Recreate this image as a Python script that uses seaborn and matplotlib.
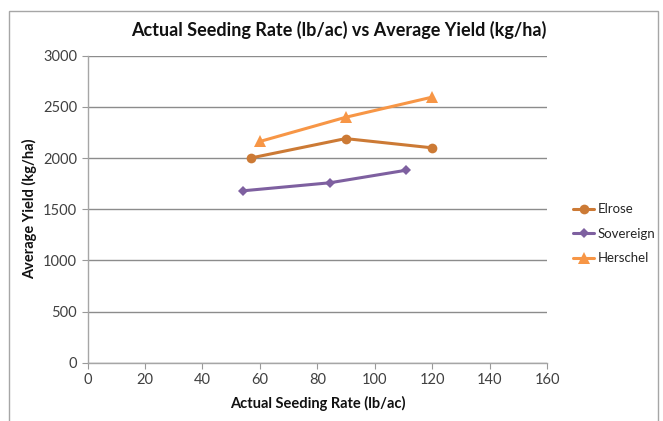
"""
Seeding rate vs yield line chart.
"""

import pandas as pd
import matplotlib
matplotlib.use("Agg")
import matplotlib.pyplot as plt
import seaborn as sns

# data
varieties = ["Elrose", "Sovereign", "Herschel"]
elrose_rate = [56.8, 89.8, 119.8]
elrose_yield = [2000, 2190, 2100]
sovereign_rate = [54.2, 84.3, 110.7]
sovereign_yield = [1680, 1758, 1880]
herschel_rate = [60.0, 89.8, 119.9]
herschel_yield = [2162, 2398, 2595]

x_ticks = [0, 20, 40, 60, 80, 100, 120, 140, 160]
y_ticks = [0, 500, 1000, 1500, 2000, 2500, 3000]

colors = {"Elrose": "#CC7A35", "Sovereign": "#7E60A0", "Herschel": "#F79646"}
markers = {"Elrose": "o", "Sovereign": "D", "Herschel": "^"}
msizes = {"Elrose": 7, "Sovereign": 5, "Herschel": 8}

df = pd.concat([
    pd.DataFrame({"rate": elrose_rate, "yield": elrose_yield, "variety": "Elrose"}),
    pd.DataFrame({"rate": sovereign_rate, "yield": sovereign_yield, "variety": "Sovereign"}),
    pd.DataFrame({"rate": herschel_rate, "yield": herschel_yield, "variety": "Herschel"}),
])

sns.set_theme(style="white")
plt.rcParams["font.family"] = ["Lato", "DejaVu Sans"]

fig = plt.figure(figsize=(6.63, 4.21), dpi=100)
ax = fig.add_axes([0.132, 0.1385, 0.6935, 0.7292])

for name in varieties:
    sub = df[df["variety"] == name]
    sns.lineplot(
        data=sub, x="rate", y="yield", ax=ax, color=colors[name],
        marker=markers[name], markersize=msizes[name], markeredgewidth=0,
        linewidth=2.2, label=name, sort=False,
    )

ax.set_xlim(0, 160)
ax.set_ylim(0, 3000)
ax.set_xticks(x_ticks)
ax.set_yticks(y_ticks)
ax.tick_params(axis="both", labelsize=10.5, colors="#404040", length=4,
               direction="out", left=True, bottom=True, width=0.8)
ax.tick_params(axis="both", color="#999999")
ax.yaxis.grid(True, color="#8C8C8C", linewidth=1)
ax.xaxis.grid(False)
for side in ["top", "right"]:
    ax.spines[side].set_visible(False)
for side in ["left", "bottom"]:
    ax.spines[side].set_color("#A6A6A6")
    ax.spines[side].set_linewidth(1)

ax.set_xlabel("Actual Seeding Rate (lb/ac)", fontsize=10.5, fontweight="bold",
              color="#111111", labelpad=6)
ax.set_ylabel("Average Yield (kg/ha)", fontsize=10.5, fontweight="bold",
              color="#111111", labelpad=4)
fig.text(0.511, 0.928, "Actual Seeding Rate (lb/ac) vs Average Yield (kg/ha)",
         ha="center", va="center", fontsize=13, fontweight="bold", color="#111111")

leg = ax.legend(loc="center left", bbox_to_anchor=(1.03, 0.42), frameon=False,
                fontsize=9.5, handlelength=1.6, handletextpad=0.25, labelspacing=0.95)

# outer chart border like the spreadsheet frame
fig.patches.append(plt.Rectangle((0.013, -0.01), 0.98, 0.985, transform=fig.transFigure,
                                 fill=False, edgecolor="#A6A6A6", linewidth=1))

fig.savefig("out.png", dpi=100)
plt.close(fig)
